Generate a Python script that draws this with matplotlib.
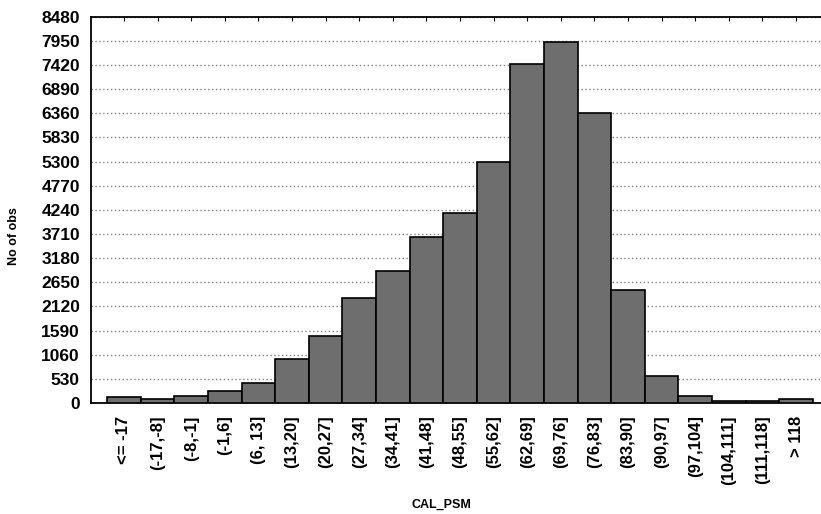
import matplotlib
matplotlib.use("Agg")
import matplotlib.pyplot as plt
import numpy as np

categories = ["<= -17", "(-17,-8]", "(-8,-1]", "(-1,6]", "(6, 13]", "(13,20]",
              "(20,27]", "(27,34]", "(34,41]", "(41,48]", "(48,55]", "(55,62]",
              "(62,69]", "(69,76]", "(76,83]", "(83,90]", "(90,97]", "(97,104]",
              "(104,111]", "(111,118]", "> 118"]
counts = [125, 90, 155, 274, 443, 955, 1466, 2298, 2903, 3650, 4170, 5290,
          7450, 7920, 6370, 2480, 600, 155, 50, 50, 95]
yticks = [0, 530, 1060, 1590, 2120, 2650, 3180, 3710, 4240, 4770, 5300,
          5830, 6360, 6890, 7420, 7950, 8480]

plt.rcParams['font.family'] = ['Liberation Sans', 'DejaVu Sans']

fig = plt.figure(figsize=(8.21, 5.14), dpi=100)
W, H = 821, 514
left, right, top, bottom = 91, 821, 16.6, 403
ax = fig.add_axes([left / W, 1 - bottom / H, (right - left) / W, (bottom - top) / H])

x = np.arange(len(categories))
ax.bar(x, counts, width=1.0, color="#6e6e6e", edgecolor="black", linewidth=1.2, zorder=3)

ax.set_xlim(-0.982, 20.744)
ax.set_ylim(0, 8480)
ax.set_yticks(yticks)
ax.set_yticklabels([str(v) for v in yticks], fontsize=12.5, fontweight="bold")
ax.set_xticks(x)
ax.set_xticklabels(categories, rotation=90, fontsize=12, fontweight="bold", va="top", ha="center")

ax.tick_params(axis="y", length=0, pad=8)
ax.tick_params(axis="x", bottom=False, top=True, direction="in", length=3, pad=9,
               labelbottom=True, labeltop=False)

ax.grid(axis="y", linestyle=(0, (1, 1.8)), color="#808080", linewidth=1.0, zorder=0)
for s in ["left", "bottom", "top"]:
    ax.spines[s].set_linewidth(1.3)
    ax.spines[s].set_color("black")
ax.spines["right"].set_visible(False)

ax.set_ylabel("No of obs", fontsize=9, fontweight="bold")
ax.yaxis.set_label_coords((20 - left) / (right - left), (bottom - 236) / (bottom - top))
ax.set_xlabel("CAL_PSM", fontsize=9, fontweight="bold")
ax.xaxis.set_label_coords((441 - left) / (right - left), (bottom - 499) / (bottom - top))

fig.savefig("out.png", dpi=100)
